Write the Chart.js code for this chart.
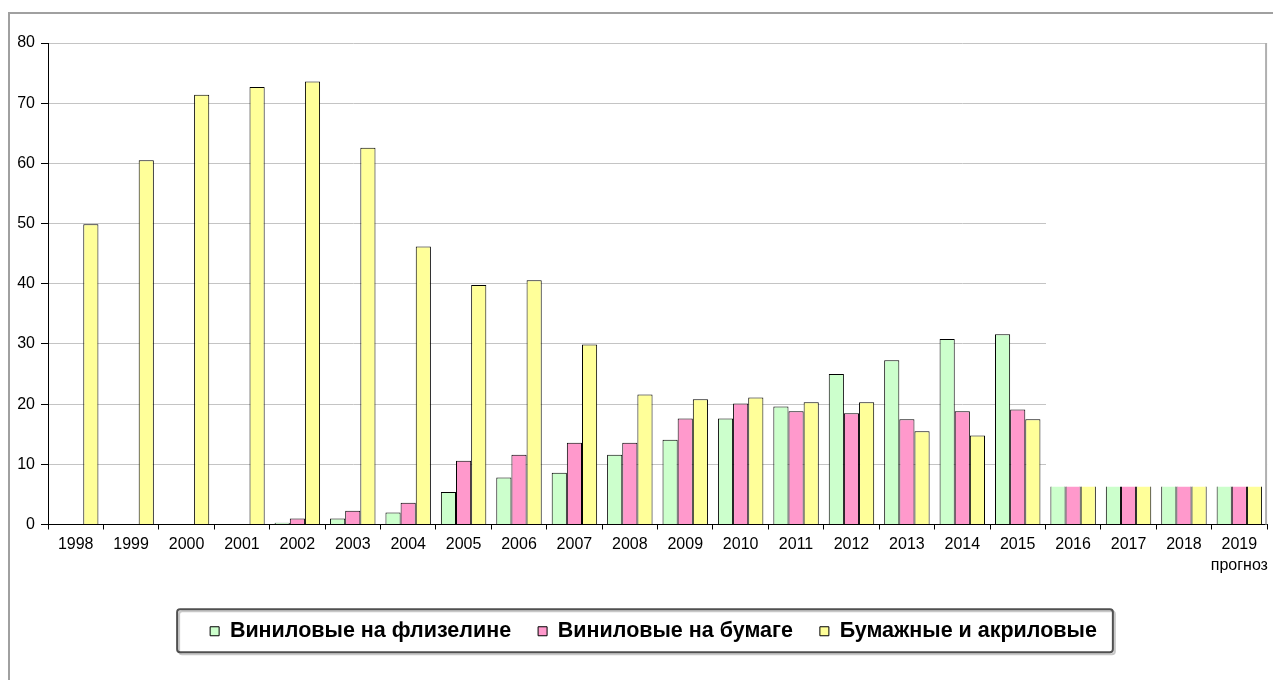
<!DOCTYPE html>
<html><head><meta charset="utf-8">
<script src="https://cdn.jsdelivr.net/npm/chart.js@4/dist/chart.umd.min.js"></script>
<style>
html,body{margin:0;padding:0;background:#fff;overflow:hidden;width:1273px;height:680px;}
#frame{position:absolute;left:8px;top:12px;width:1300px;height:700px;border-left:2px solid #a0a0a0;border-top:2px solid #a0a0a0;}
#wrap{position:absolute;left:0;top:0;width:1273px;height:680px;}
</style></head><body>
<div id="frame"></div>
<div id="wrap"><canvas id="c"></canvas></div>
<script>
const categories = ['1998','1999','2000','2001','2002','2003','2004','2005','2006','2007','2008','2009','2010','2011','2012','2013','2014','2015','2016','2017','2018',['2019','прогноз']];
const seriesNames = ['Виниловые на флизелине','Виниловые на бумаге','Бумажные и акриловые'];
const vinylFleece = [0,0,0,0,0.3,1.0,2.0,5.4,7.8,8.6,11.6,14.1,17.6,19.6,25.0,27.3,30.8,31.6,6.3,6.3,6.3,6.3];
const vinylPaper  = [0,0,0,0,1.0,2.3,3.6,10.6,11.6,13.6,13.6,17.6,20.1,18.8,18.5,17.5,18.8,19.1,6.3,6.3,6.3,6.3];
const paperAcryl  = [49.9,60.5,71.4,72.7,73.6,62.6,46.2,39.8,40.6,29.9,21.6,20.8,21.1,20.3,20.3,15.5,14.8,17.5,6.3,6.3,6.3,6.3];
const yTickValues = [0,10,20,30,40,50,60,70,80];
const forecastFrom = 18;

const colors = ['#CCFFCC','#FF99CC','#FFFF99'];
const fontFam = "'Liberation Sans', Arial, sans-serif";

function bw(ctx){ return (ctx.dataIndex !== undefined && ctx.dataIndex >= forecastFrom) ? {top:0,left:1,right:1,bottom:0} : 1; }

const decor = {
  id:'decor',
  afterLayout(chart){
    const lg = chart.legend;
    if (lg) { lg.left += 18; lg.right += 18; }
  },
  beforeDatasetsDraw(chart){
    const {ctx, chartArea:a, scales:{x,y}} = chart;
    const xb = (x.getPixelForValue(forecastFrom-1) + x.getPixelForValue(forecastFrom))/2;
    ctx.save();
    ctx.fillStyle = '#fff';
    const yt = y.getPixelForValue(56);
    ctx.fillRect(Math.round(xb)+1, yt, a.right - Math.round(xb) - 2, a.bottom - 1 - yt);
    ctx.strokeStyle = '#b0b0b0'; ctx.lineWidth = 2;
    ctx.beginPath(); ctx.moveTo(a.right - 1, a.top); ctx.lineTo(a.right - 1, a.bottom); ctx.stroke();
    ctx.restore();
  },
  afterDraw(chart){
    const lg = chart.legend; if(!lg || !lg.legendHitBoxes.length) return;
    const hb = lg.legendHitBoxes;
    const l = hb[0].left - 33, r = hb[hb.length-1].left + hb[hb.length-1].width + 16;
    const cy = hb[0].top + hb[0].height/2;
    const t = cy - 22, b = cy + 21;
    const ctx = chart.ctx;
    ctx.save();
    ctx.strokeStyle = '#c8c8c8'; ctx.lineWidth = 2;
    ctx.beginPath(); ctx.roundRect(l+2, t+2, r-l, b-t, 3); ctx.stroke();
    ctx.strokeStyle = '#505050'; ctx.lineWidth = 2;
    ctx.beginPath(); ctx.roundRect(l, t, r-l, b-t, 3); ctx.stroke();
    ctx.restore();
  }
};

new Chart(document.getElementById('c'), {
  type:'bar',
  data:{
    labels: categories,
    datasets:[vinylFleece, vinylPaper, paperAcryl].map((d,i)=>({
      label: seriesNames[i], data: d, backgroundColor: colors[i], borderColor:'#000', borderWidth: bw,
      categoryPercentage:0.82, barPercentage:1.0
    }))
  },
  options:{
    responsive:true, maintainAspectRatio:false, animation:false,
    layout:{padding:{left:0,right:2,top:43,bottom:28}},
    plugins:{
      tooltip:{enabled:false},
      legend:{position:'bottom', align:'center',
        labels:{font:{family:fontFam,size:21.5,weight:'bold'}, color:'#000', boxWidth:9, boxHeight:9, padding:27}}
    },
    scales:{
      x:{
        grid:{offset:true, drawOnChartArea:false, tickLength:5, tickColor:'#000'},
        border:{display:true,color:'#000',width:1},
        ticks:{font:{family:fontFam,size:16,lineHeight:1.3}, color:'#000', padding:5, maxRotation:0, autoSkip:false},
        afterFit(s){ s.height = 69; }
      },
      y:{
        min:0, max:80,
        afterBuildTicks(s){ s.ticks = yTickValues.map(v=>({value:v})); },
        grid:{color:'#c4c4c4', lineWidth:1, tickLength:7, tickColor:'#000'},
        border:{display:true,color:'#000',width:1},
        ticks:{font:{family:fontFam,size:16}, color:'#000', padding:6},
        afterFit(s){ s.width = 48; }
      }
    }
  },
  plugins:[decor]
});
</script>
</body></html>
